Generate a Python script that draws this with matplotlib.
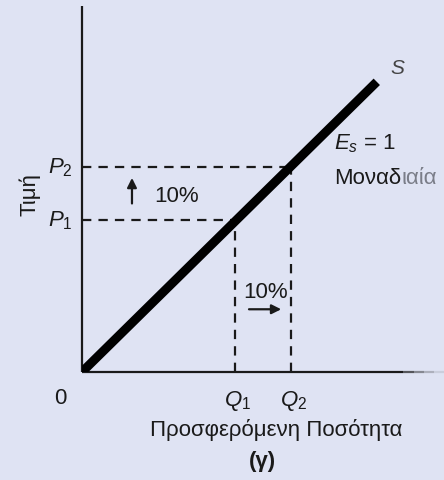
import numpy as np
import matplotlib.pyplot as plt

plt.rcParams['font.family'] = ['Liberation Sans', 'DejaVu Sans']
plt.rcParams['mathtext.fontset'] = 'custom'
plt.rcParams['mathtext.it'] = 'Liberation Sans:italic'
plt.rcParams['mathtext.rm'] = 'Liberation Sans'

# καμπύλη προσφοράς S (μονάδες του διαγράμματος)
quantity = [0.0, 5.78]
price = [0.0, 5.69]
q_points = [3.0, 4.1]     # Q1, Q2
p_points = [2.98, 4.02]   # P1, P2
q_labels = ['$Q_1$', '$Q_2$']
p_labels = ['$P_1$', '$P_2$']
pct_text = '10%'

bg = '#dfe3f3'
ink = '#1a1a1a'
fs = 16

fig = plt.figure(figsize=(4.44, 4.81), dpi=100, facecolor=bg)
ax = fig.add_axes([82 / 444, 1 - 373 / 481, 362 / 444, 366 / 481])
ax.set_facecolor(bg)
ax.set_xlim(0, 362 / 51)
ax.set_ylim(0, 366 / 51)
for sp in ax.spines.values():
    sp.set_visible(False)
ax.set_xticks([])
ax.set_yticks([])

# άξονες
ax.plot([0, 0], [0, 366 / 51], color=ink, lw=1.6, clip_on=False, solid_capstyle='butt')
ax.plot([0, 6.3], [0, 0], color=ink, lw=1.6, clip_on=False, solid_capstyle='butt')
for i, a in enumerate([0.7, 0.45, 0.25, 0.1]):
    ax.plot([6.3 + i * 0.2, 6.5 + i * 0.2], [0, 0], color=ink, lw=1.6, alpha=a,
            clip_on=False, solid_capstyle='butt')

# διακεκομμένες γραμμές
dash = (0, (4.2, 3.2))
for q, p in zip(q_points, p_points):
    ax.plot([0, q], [p, p], color=ink, lw=1.6, ls=dash)
    ax.plot([q, q], [0, p], color=ink, lw=1.6, ls=dash)

# S
ax.plot(quantity, price, color='black', lw=6.5, solid_capstyle='butt')
ax.text(quantity[1] + 0.4, price[1] + 0.28, 'S', fontsize=15, style='italic',
        color='#444444', ha='center', va='center')

ax.text(4.95, 4.5, '$E_s$ = 1', fontsize=fs, color=ink, ha='left', va='center')
t = ax.text(4.95, 3.82, 'Μοναδ', fontsize=fs, color=ink, ha='left', va='center',
            clip_on=False)
ax.annotate('ιαία', xycoords=t, xy=(1, 0.5), va='center', ha='left',
            fontsize=fs, color='#7a7d88', annotation_clip=False)

# ετικέτες P, Q
for p, lab in zip(p_points, p_labels):
    ax.text(-0.42, p, lab, fontsize=fs, color=ink, ha='center', va='center', clip_on=False)
for q, lab in zip(q_points, q_labels):
    ax.text(q + 0.05, -0.55, lab, fontsize=fs, color=ink, ha='center', va='center', clip_on=False)
ax.text(-0.43, -0.5, '0', fontsize=fs, color=ink, ha='center', va='center', clip_on=False)

# βέλη 10%
ax.annotate('', xy=(0.98, 3.86), xytext=(0.98, 3.25),
            arrowprops=dict(arrowstyle='-|>', color=ink, lw=1.6, mutation_scale=14))
ax.text(1.42, 3.47, pct_text, fontsize=fs, color=ink, ha='left', va='center')
ax.annotate('', xy=(3.96, 1.23), xytext=(3.22, 1.23),
            arrowprops=dict(arrowstyle='-|>', color=ink, lw=1.6, mutation_scale=14))
ax.text(3.6, 1.57, pct_text, fontsize=fs, color=ink, ha='center', va='center')

# τίτλοι αξόνων
fig.text(30 / 444, 1 - 195 / 481, 'Τιμή', rotation=90, fontsize=fs, color=ink,
         ha='center', va='center')
fig.text(276 / 444, 1 - 430 / 481, 'Προσφερόμενη Ποσότητα', fontsize=fs, color=ink,
         ha='center', va='center')
fig.text(262 / 444, 1 - 462 / 481, '(γ)', fontsize=fs, fontweight='bold', color=ink,
         ha='center', va='center')

fig.savefig('out.png', dpi=100, facecolor=bg)
